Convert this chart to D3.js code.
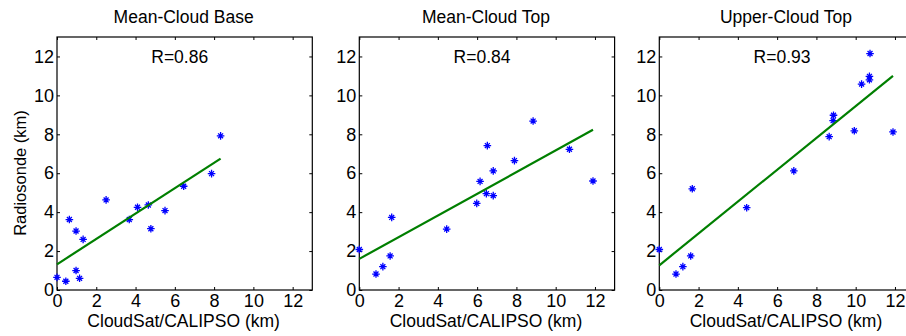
<!DOCTYPE html>
<html>
<head>
<meta charset="utf-8">
<script src="https://cdn.jsdelivr.net/npm/d3@7"></script>
<style>
  body { margin: 0; background: #fff; }
  svg { display: block; font-family: Arial, "Liberation Sans", sans-serif; }
  .tick line { stroke: #000; }
  .domain { display: none; }
</style>
</head>
<body>
<div id="chart"></div>
<script>
// panel titles and correlation labels
const titles = ['Mean-Cloud Base', 'Mean-Cloud Top', 'Upper-Cloud Top'];
const rLabels = ['R=0.86', 'R=0.84', 'R=0.93'];
const tickValues = [0, 2, 4, 6, 8, 10, 12];

// CloudSat/CALIPSO (x) vs radiosonde (y), km
const baseX = [0, 0.45, 0.63, 0.97, 0.97, 1.15, 1.33, 2.5, 3.68, 4.1, 4.65, 4.78, 5.5, 6.45, 7.87, 8.33];
const baseY = [0.65, 0.45, 3.62, 3.03, 1.0, 0.6, 2.6, 4.63, 3.62, 4.25, 4.37, 3.15, 4.08, 5.33, 5.98, 7.92];

const meanTopX = [0, 0.85, 1.2, 1.57, 1.65, 4.45, 5.98, 6.15, 6.47, 6.52, 6.82, 6.82, 7.9, 8.85, 10.7, 11.9];
const meanTopY = [2.08, 0.82, 1.2, 1.75, 3.73, 3.13, 4.45, 5.58, 4.95, 7.42, 6.12, 4.85, 6.65, 8.68, 7.23, 5.6];

const upperTopX = [0, 0.85, 1.2, 1.6, 1.68, 4.45, 6.85, 8.65, 8.85, 8.87, 9.93, 10.3, 10.7, 10.7, 10.73, 11.9];
const upperTopY = [2.08, 0.82, 1.2, 1.75, 5.2, 4.23, 6.12, 7.88, 8.7, 8.98, 8.18, 10.58, 10.8, 10.98, 12.15, 8.12];

// fitted line end points
const fitX = [[0, 8.33], [0, 11.9], [0, 11.9]];
const fitY = [[1.32, 6.75], [1.6, 8.23], [1.27, 11.0]];

const xsList = [baseX, meanTopX, upperTopX];
const ysList = [baseY, meanTopY, upperTopY];

let width = 906;
let height = 336;
let panelLeft = [57, 359.3, 659.3];
let panelW = 255.3;
let plotTop = 37, plotBottom = 290;

const svg = d3.select('#chart')
  .append('svg')
  .attr('width', width)
  .attr('height', height);

let y = d3.scaleLinear().domain([0, 13]).range([plotBottom, plotTop]);

// asterisk marker like matlab '*'
function star(s) {
  let d = 'M' + (-s) + ',0H' + s + 'M0,' + (-s) + 'V' + s;
  let k = s * 0.65;
  d += 'M' + (-k) + ',' + (-k) + 'L' + k + ',' + k + 'M' + (-k) + ',' + k + 'L' + k + ',' + (-k);
  return d;
}

titles.forEach(function(title, i) {
  let x = d3.scaleLinear().domain([0, 13]).range([panelLeft[i], panelLeft[i] + panelW]);
  let g = svg.append('g');

  let fs = '17.5px';
  let tfs = '18px';

  // axes (ticks pointing inward, box style)
  g.append('g')
    .attr('transform', 'translate(0,' + plotBottom + ')')
    .call(d3.axisBottom(x).tickValues(tickValues).tickSizeInner(-3).tickSizeOuter(0).tickPadding(4))
    .selectAll('text').attr('font-size', tfs).attr('fill', '#000').attr('font-family', 'Arial, Liberation Sans');
  g.append('g')
    .attr('transform', 'translate(0,' + plotTop + ')')
    .call(d3.axisTop(x).tickValues(tickValues).tickSizeInner(-3).tickSizeOuter(0).tickFormat(''));
  g.append('g')
    .attr('transform', 'translate(' + panelLeft[i] + ',0)')
    .call(d3.axisLeft(y).tickValues(tickValues).tickSizeInner(-3).tickSizeOuter(0).tickPadding(3))
    .selectAll('text').attr('font-size', tfs).attr('fill', '#000').attr('font-family', 'Arial, Liberation Sans');
  g.append('g')
    .attr('transform', 'translate(' + (panelLeft[i] + panelW) + ',0)')
    .call(d3.axisRight(y).tickValues(tickValues).tickSizeInner(-3).tickSizeOuter(0).tickFormat(''));

  g.append('rect')
    .attr('x', panelLeft[i])
    .attr('y', plotTop)
    .attr('width', panelW)
    .attr('height', plotBottom - plotTop)
    .attr('fill', 'none')
    .attr('stroke', '#000')
    .attr('stroke-width', 1.2);

  // points
  let pts = xsList[i].map(function(v, j) { return [v, ysList[i][j]]; });
  g.selectAll('.pt')
    .data(pts)
    .enter()
    .append('path')
    .attr('class', 'pt')
    .attr('transform', function(d) { return 'translate(' + x(d[0]) + ',' + y(d[1]) + ')'; })
    .attr('d', star(3.8))
    .attr('stroke', '#0000ff')
    .attr('stroke-width', 1.3)
    .attr('fill', 'none');

  // regression line
  let line = d3.line().x(function(d) { return x(d[0]); }).y(function(d) { return y(d[1]); });
  g.append('path')
    .datum(fitX[i].map(function(v, j) { return [v, fitY[i][j]]; }))
    .attr('d', line)
    .attr('stroke', '#007f00')
    .attr('stroke-width', 2.2)
    .attr('fill', 'none');

  g.append('text')
    .attr('x', x(4.8))
    .attr('y', y(12) + 6.5)
    .attr('font-size', fs)
    .attr('fill', '#000')
    .text(rLabels[i]);

  g.append('text')
    .attr('x', panelLeft[i] + panelW / 2 - 1)
    .attr('y', 23)
    .attr('text-anchor', 'middle')
    .attr('font-size', fs)
    .attr('fill', '#000')
    .text(title);

  g.append('text')
    .attr('x', panelLeft[i] + panelW / 2 - 1)
    .attr('y', 327)
    .attr('text-anchor', 'middle')
    .attr('font-size', fs)
    .attr('fill', '#000')
    .text('CloudSat/CALIPSO (km)');
});

svg.append('text')
  .attr('transform', 'translate(26,173) rotate(-90)')
  .attr('text-anchor', 'middle')
  .attr('font-size', '16.5px')
  .attr('fill', '#000')
  .text('Radiosonde (km)');
</script>
</body>
</html>
